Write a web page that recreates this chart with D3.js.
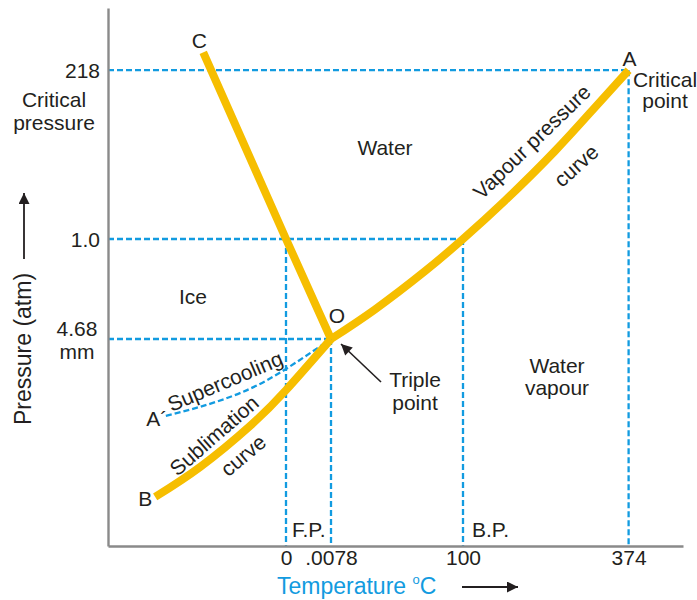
<!DOCTYPE html>
<html>
<head>
<meta charset="utf-8">
<script src="https://cdn.jsdelivr.net/npm/d3@7"></script>
<style>
  html, body { margin: 0; padding: 0; background: #fff; }
  svg text { font-family: "Liberation Sans", Arial, sans-serif; fill: #231f20; }
</style>
</head>
<body>
<svg id="chart" width="697" height="600"></svg>
<script>
// ---- Data (temperature in °C, pressure in atm; schematic, non-linear axes) ----
const xTickValues = [0, 0.0078, 100, 374];
const xTickLabels = ["0", ".0078", "100", "374"];
const yTickValues = [218, 1.0, 0.00616];
const yTickLabels = [["218"], ["1.0"], ["4.68", "mm"]];

// Fusion (ice/water) line C -> O
const fusionT = [-18.6, 0, 0.0078];
const fusionP = [241, 1.0, 0.00616];
// Vapour pressure curve O -> A
const vapourT = [0.0078, 33.3, 71.2, 100, 169.5, 252, 318, 374];
const vapourP = [0.00616, 0.30, 0.68, 1.0, 50.4, 114, 170, 218];
// Sublimation curve B -> O
const sublimT = [-29.4, -19.3, -8.1, 0, 0.0078];
const sublimP = [0.00146, 0.00235, 0.00357, 0.00464, 0.00616];
// Supercooling curve A' -> O
const superT = [-27, -17.1, -8.1, 0, 0.0078];
const superP = [0.00387, 0.00423, 0.00468, 0.00527, 0.00616];

// Reference points (critical, boiling, freezing, triple)
const critical = { t: 374, p: 218 };
const boiling = { t: 100, p: 1.0 };
const freezing = { t: 0, p: 1.0 };
const triple = { t: 0.0078, p: 0.00616 };

// ---- Scales (piecewise linear: schematic diagram) ----
const x = d3.scaleLinear()
  .domain([-40, 0, 0.0078, 100, 464])
  .range([108, 286, 331, 463, 683]);
const y = d3.scaleLinear()
  .domain([0, 0.00616, 1, 298])
  .range([546, 339, 239, 8]);

const svg = d3.select("#chart");
const BLUE = "#129be0";
const YELLOW = "#f6be00";
const INK = "#231f20";
const FONT = 21;

const x0 = x.range()[0];
const yBase = y.range()[0];

// ---- Dashed guide lines ----
const guides = svg.append("g")
  .attr("stroke", BLUE).attr("stroke-width", 2.3)
  .attr("stroke-dasharray", "6,3").attr("fill", "none");
[critical, boiling, triple].forEach(pt => {
  guides.append("line")
    .attr("x1", x0).attr("x2", x(pt.t))
    .attr("y1", y(pt.p)).attr("y2", y(pt.p));
});
[critical, boiling, freezing, triple].forEach(pt => {
  guides.append("line")
    .attr("x1", x(pt.t)).attr("x2", x(pt.t))
    .attr("y1", y(pt.p)).attr("y2", yBase);
});

// ---- Supercooling (dashed) ----
svg.append("path")
  .datum(d3.zip(superT, superP))
  .attr("d", d3.line().x(d => x(d[0])).y(d => y(d[1])).curve(d3.curveNatural))
  .attr("fill", "none").attr("stroke", BLUE)
  .attr("stroke-width", 2.3).attr("stroke-dasharray", "6,3");

// ---- Axes ----
const xAxis = d3.axisBottom(x)
  .tickValues(xTickValues)
  .tickFormat((d, i) => xTickLabels[i])
  .tickSize(0).tickSizeOuter(0).tickPadding(4);
const gx = svg.append("g").attr("transform", `translate(0,${yBase})`).call(xAxis);
gx.select(".domain").attr("stroke", "#8a8a8a").attr("stroke-width", 2.4);
gx.selectAll(".tick text")
  .attr("font-size", FONT).attr("fill", INK)
  .attr("font-family", '"Liberation Sans", Arial, sans-serif');

const yAxis = d3.axisLeft(y).tickValues([]).tickSize(0).tickSizeOuter(0);
const gy = svg.append("g").attr("transform", `translate(${x0},0)`).call(yAxis);
gy.select(".domain").attr("stroke", "#8a8a8a").attr("stroke-width", 2.4);

// y tick labels
yTickValues.forEach((v, i) => {
  const lines = yTickLabels[i];
  const t = svg.append("text").attr("font-size", FONT);
  if (lines.length === 1) {
    t.attr("x", x0 - 8).attr("y", y(v) + 8).attr("text-anchor", "end").text(lines[0]);
  } else {
    t.attr("text-anchor", "middle");
    lines.forEach((s, j) => {
      t.append("tspan").attr("x", x0 - 31).attr("y", y(v) - 3 + j * 23).text(s);
    });
  }
});

// ---- Phase boundary curves ----
function curve(T, P, c) {
  svg.append("path")
    .datum(d3.zip(T, P))
    .attr("d", d3.line().x(d => x(d[0])).y(d => y(d[1])).curve(c))
    .attr("fill", "none").attr("stroke", YELLOW)
    .attr("stroke-width", 8).attr("stroke-linejoin", "round");
}
curve(fusionT, fusionP, d3.curveLinear);
curve(vapourT, vapourP, d3.curveNatural);
curve(sublimT, sublimP, d3.curveNatural);

// ---- Text annotations ----
function label(txt, px, py, opts = {}) {
  const t = svg.append("text")
    .attr("x", px).attr("y", py)
    .attr("font-size", opts.size || FONT)
    .attr("text-anchor", opts.anchor || "middle")
    .text(txt);
  if (opts.rotate) t.attr("transform", `rotate(${opts.rotate},${px},${py})`);
  return t;
}

label("C", x(fusionT[0]) - 4, y(fusionP[0]) - 4);
label("A", x(critical.t) + 1, y(critical.p) - 4);
label("B", x(sublimT[0]) - 10, y(sublimP[0]) + 9);
label("A\u00B4", x(superT[0]) - 9, y(superP[0]) + 10);
label("O", x(triple.t) + 6, y(triple.p) - 16);

label("Critical", 665, 87);
label("point", 665, 108);
label("Critical", 54, 107);
label("pressure", 54, 130);

label("Water", 385, 155);
label("Ice", 193, 304);
label("Water", 557, 373);
label("vapour", 557, 395);
label("Triple", 415, 387);
label("point", 415, 410);

label("F.P.", x(freezing.t) + 6, 537, { anchor: "start" });
label("B.P.", x(boiling.t) + 9, 537, { anchor: "start" });

label("Vapour pressure", 537, 147, { rotate: -44 });
label("curve", 581, 171, { rotate: -42 });
label("Supercooling", 228, 388, { rotate: -23 });
label("Sublimation", 219, 441, { rotate: -41 });
label("curve", 248, 461, { rotate: -40 });

// Arrow markers
const defs = svg.append("defs");
defs.append("marker").attr("id", "ah").attr("viewBox", "0 0 10 10")
  .attr("refX", 10).attr("refY", 5).attr("markerWidth", 14).attr("markerHeight", 11)
  .attr("markerUnits", "userSpaceOnUse").attr("orient", "auto")
  .append("path").attr("d", "M0,0L10,5L0,10Z").attr("fill", INK);

// Triple point arrow
svg.append("line")
  .attr("x1", 381).attr("y1", 382)
  .attr("x2", x(triple.t) + 10).attr("y2", y(triple.p) + 5)
  .attr("stroke", INK).attr("stroke-width", 1.6).attr("marker-end", "url(#ah)");

// Axis titles
const tt = svg.append("text").attr("x", 277).attr("y", 594)
  .attr("font-size", 23).attr("text-anchor", "start").attr("fill", BLUE);
tt.append("tspan").text("Temperature ").attr("fill", BLUE);
tt.append("tspan").text("o").attr("font-size", 13).attr("dy", -10).attr("fill", BLUE);
tt.append("tspan").text("C").attr("dy", 10).attr("fill", BLUE);

svg.append("line").attr("x1", 462).attr("x2", 518).attr("y1", 587).attr("y2", 587)
  .attr("stroke", INK).attr("stroke-width", 1.8).attr("marker-end", "url(#ah)");

svg.append("text").attr("transform", "translate(31,349) rotate(-90)")
  .attr("text-anchor", "middle").attr("font-size", 23).attr("fill", BLUE)
  .text("Pressure (atm)");
svg.append("line").attr("x1", 24).attr("x2", 24).attr("y1", 259).attr("y2", 193)
  .attr("stroke", INK).attr("stroke-width", 1.8).attr("marker-end", "url(#ah)");
</script>
</body>
</html>
